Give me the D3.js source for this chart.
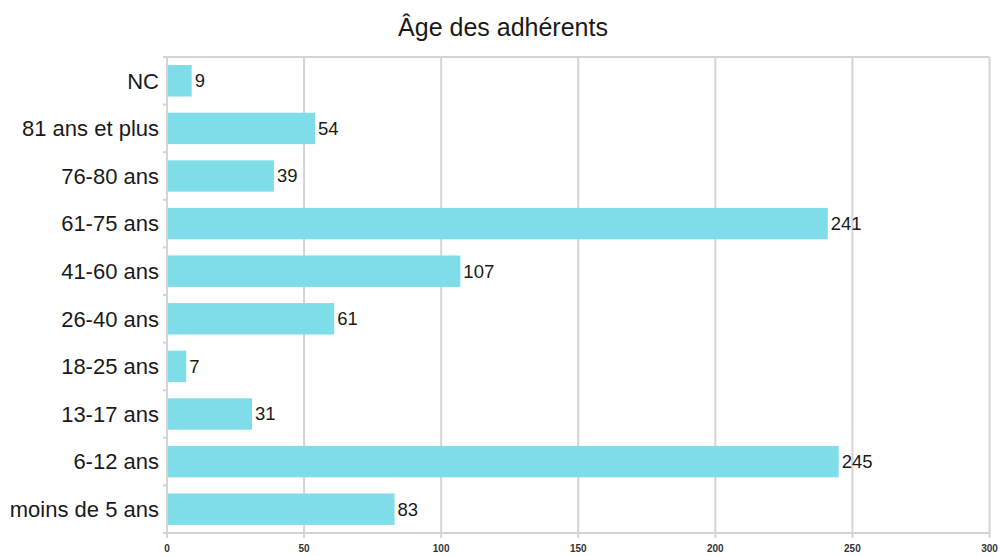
<!DOCTYPE html>
<html lang="fr">
<head>
    <meta charset="UTF-8">
    <title>Âge des adhérents</title>
    <script src="https://d3js.org/d3.v7.min.js"></script>
    <style>
        body {
            margin: 0;
            background: #fff;
            font-family: "Liberation Sans", Arial, sans-serif;
        }
        .grid line { stroke: #d4d4d4; stroke-width: 2px; }
        .cat text { font-size: 22px; fill: #1a1a1a; }
        .xax text { font-size: 10px; fill: #333; }
        .val { font-size: 18.5px; fill: #1a1a1a; }
    </style>
</head>
<body>
    <svg width="1000" height="556"></svg>
    <script>
        const categories = ["NC", "81 ans et plus", "76-80 ans", "61-75 ans", "41-60 ans",
            "26-40 ans", "18-25 ans", "13-17 ans", "6-12 ans", "moins de 5 ans"];
        const values = [9, 54, 39, 241, 107, 61, 7, 31, 245, 83];
        const xTicks = [0, 50, 100, 150, 200, 250, 300];

        const svg = d3.select("svg");
        const mLeft = 167, mRight = 989.5, mTop = 57, mBottom = 533;

        const x = d3.scaleLinear().domain([0, 300]).range([mLeft, mRight]);
        const y = d3.scaleBand().domain(categories).range([mTop, mBottom]).paddingInner(0.34).paddingOuter(0.17);

        svg.append("text")
            .attr("x", 503).attr("y", 36)
            .attr("text-anchor", "middle")
            .style("font-size", "25px").style("fill", "#1a1a1a")
            .text("Âge des adhérents");

        // vertical grid lines + ticks below the axis
        const grid = svg.append("g").attr("class", "grid");
        grid.selectAll("line.v")
            .data(xTicks.slice(1))
            .enter().append("line")
            .attr("x1", d => x(d)).attr("x2", d => x(d))
            .attr("y1", mTop).attr("y2", mBottom + 5);

        // top border
        grid.append("line").attr("x1", mLeft).attr("x2", mRight).attr("y1", mTop).attr("y2", mTop);
        // bottom axis line
        grid.append("line").attr("x1", mLeft).attr("x2", mRight).attr("y1", mBottom).attr("y2", mBottom);
        // left axis line
        grid.append("line").attr("x1", mLeft).attr("x2", mLeft).attr("y1", mTop).attr("y2", mBottom + 5);

        // small ticks on left axis at band boundaries
        const step = y.step();
        grid.selectAll("line.t")
            .data(d3.range(categories.length + 1))
            .enter().append("line")
            .attr("x1", mLeft - 4).attr("x2", mLeft)
            .attr("y1", i => mTop + i * step).attr("y2", i => mTop + i * step);

        // x tick labels
        svg.append("g").attr("class", "xax")
            .selectAll("text")
            .data(xTicks)
            .enter().append("text")
            .attr("x", d => x(d)).attr("y", 552)
            .attr("text-anchor", "middle")
            .style("font-weight", "bold")
            .text(d => d);

        // category labels
        svg.append("g").attr("class", "cat")
            .selectAll("text")
            .data(categories)
            .enter().append("text")
            .attr("x", mLeft - 8)
            .attr("y", d => y(d) + y.bandwidth() / 2)
            .attr("dy", "0.35em")
            .attr("text-anchor", "end")
            .text(d => d);

        // bars
        svg.append("g")
            .selectAll("rect")
            .data(categories)
            .enter().append("rect")
            .attr("x", x(0) + 1)
            .attr("y", d => y(d))
            .attr("width", (d, i) => x(values[i]) - x(0) - 1)
            .attr("height", y.bandwidth())
            .attr("fill", "#7edde9");

        svg.append("g")
            .selectAll("text")
            .data(categories)
            .enter().append("text")
            .attr("class", "val")
            .attr("x", (d, i) => x(values[i]) + 3)
            .attr("y", d => y(d) + y.bandwidth() / 2)
            .attr("dy", "0.35em")
            .text((d, i) => values[i]);
    </script>
</body>
</html>
